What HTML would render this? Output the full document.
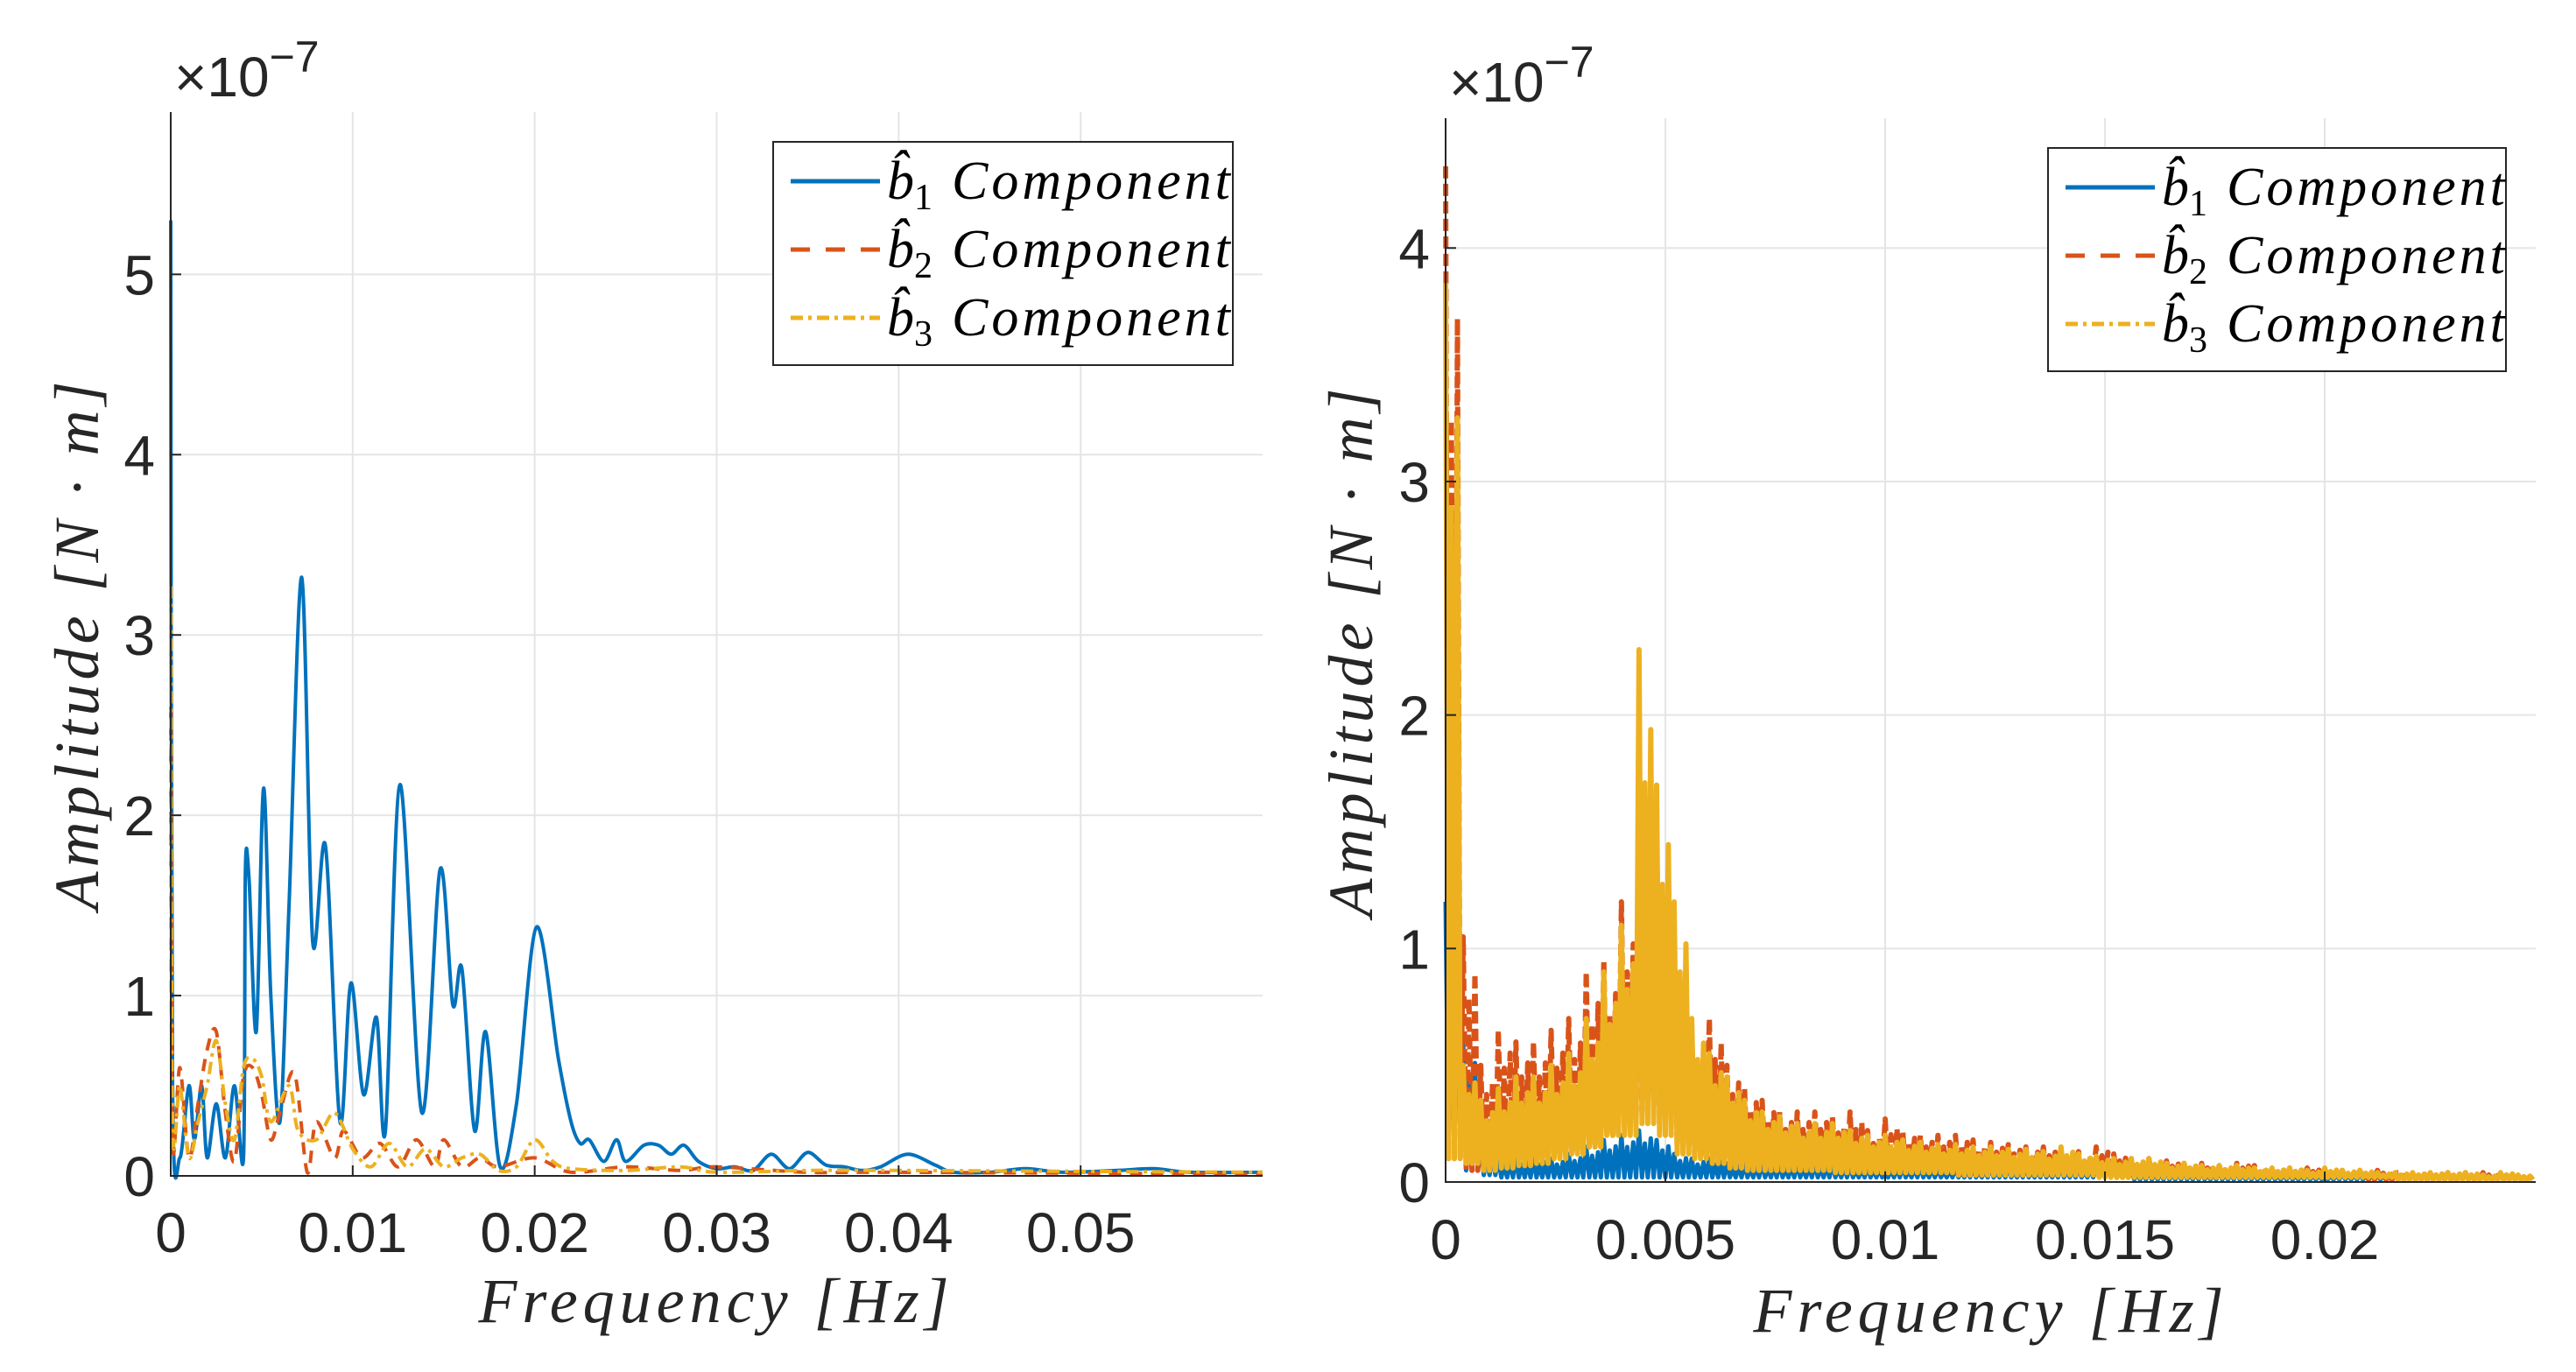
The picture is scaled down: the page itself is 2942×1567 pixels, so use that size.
<!DOCTYPE html>
<html><head><meta charset="utf-8">
<style>
html,body{margin:0;padding:0;background:#fff;}
svg{display:block;}
.tk{font-family:"Liberation Sans",sans-serif;font-size:64px;fill:#262626;}
.lab{font-family:"Liberation Serif",serif;font-style:italic;font-size:72px;fill:#262626;}
.leg{font-family:"Liberation Serif",serif;font-style:italic;font-size:62px;fill:#000;}
</style></head>
<body>
<svg id="fig" width="2942" height="1567" viewBox="0 0 2942 1567" xmlns="http://www.w3.org/2000/svg">
<g id="left"></g>
<g id="right"></g>
</svg>
<script>
// ---- Left chart data (x in Hz, y in 1e-7 N·m)
const leftBlueX=[0,0.0001,0.0005,0.001,0.0013,0.0017,0.002,0.0025,0.003,0.0035,0.004,0.0041,0.0043,0.0047,0.0051,0.0055,0.006,0.0065,0.0072,0.0078,0.0085,0.0093,0.0099,0.0106,0.0113,0.0118,0.0126,0.0138,0.0148,0.0155,0.016,0.0167,0.0173,0.0181,0.019,0.0201,0.0213,0.022,0.0225,0.023,0.0238,0.0245,0.025,0.026,0.0268,0.0275,0.0282,0.029,0.03,0.031,0.032,0.033,0.034,0.035,0.036,0.037,0.038,0.039,0.0405,0.042,0.043,0.045,0.047,0.049,0.052,0.054,0.056,0.06];
const leftBlueY=[5.3,0.5,0.1,0.5,0.2,0.5,0.1,0.4,0.1,0.5,0.1,1.68,1.65,0.8,2.15,1.0,0.3,1.5,3.32,1.3,1.83,0.3,1.07,0.45,0.88,0.25,2.17,0.35,1.7,0.95,1.15,0.25,0.8,0.05,0.4,1.38,0.65,0.3,0.18,0.2,0.08,0.2,0.08,0.17,0.17,0.12,0.17,0.08,0.04,0.05,0.03,0.12,0.04,0.13,0.06,0.05,0.03,0.05,0.12,0.06,0.02,0.02,0.04,0.02,0.03,0.04,0.02,0.02];
const leftRedX=[0,0.0001,0.0005,0.001,0.0015,0.002,0.0025,0.003,0.0035,0.004,0.0045,0.005,0.0055,0.006,0.0068,0.0075,0.008,0.009,0.0095,0.0105,0.0115,0.0125,0.0135,0.0145,0.015,0.016,0.017,0.018,0.02,0.022,0.025,0.028,0.03,0.035,0.04,0.06];
const leftRedY=[2.6,0.2,0.6,0.1,0.4,0.7,0.8,0.35,0.08,0.55,0.6,0.45,0.2,0.35,0.57,0.02,0.3,0.1,0.25,0.1,0.18,0.05,0.2,0.05,0.2,0.05,0.1,0.05,0.1,0.02,0.05,0.03,0.05,0.02,0.02,0.01];
const leftYelX=[0,0.0001,0.0005,0.001,0.0015,0.002,0.0025,0.003,0.0035,0.004,0.0045,0.005,0.0055,0.0065,0.007,0.008,0.009,0.01,0.011,0.012,0.013,0.014,0.015,0.016,0.017,0.018,0.019,0.02,0.021,0.022,0.025,0.028,0.03,0.035,0.04,0.06];
const leftYelY=[3.27,0.3,0.5,0.1,0.3,0.5,0.75,0.4,0.2,0.6,0.65,0.55,0.3,0.5,0.25,0.2,0.35,0.15,0.05,0.18,0.05,0.15,0.05,0.1,0.12,0.03,0.05,0.2,0.08,0.04,0.03,0.05,0.02,0.03,0.03,0.02];
const leftXTicks=[0,0.01,0.02,0.03,0.04,0.05];
const leftXTickLabels=["0","0.01","0.02","0.03","0.04","0.05"];
const leftYTicks=[0,1,2,3,4,5];
// ---- Right chart data: per-bin (0.0004 Hz) high and low values
const rightBinStart=[0,0.0004,0.0008,0.0012,0.0016,0.002,0.0024,0.0028,0.0032,0.0036,0.004,0.0044,0.0048,0.0052,0.0056,0.006,0.0064,0.0068,0.0072,0.0076,0.008,0.0084,0.0088,0.0092,0.0096,0.01,0.0104,0.0108,0.0112,0.0116,0.012,0.0124,0.0128,0.0132,0.0136,0.014,0.0144,0.0148,0.0152,0.0156,0.016,0.0164,0.0168,0.0172,0.0176,0.018,0.0184,0.0188,0.0192,0.0196,0.02,0.0204,0.0208,0.0212,0.0216,0.022,0.0224,0.0228,0.0232,0.0236,0.024,0.0244];
const rightBlueHigh=[1.2,0.6,0.15,0.1,0.1,0.1,0.1,0.12,0.15,0.18,0.2,0.22,0.18,0.12,0.1,0.1,0.08,0.08,0.08,0.08,0.08,0.08,0.08,0.07,0.07,0.07,0.07,0.07,0.06,0.06,0.06,0.06,0.06,0.06,0.06,0.06,0.06,0.06,0.05,0.05,0.05,0.05,0.05,0.05,0.05,0.05,0.04,0.04,0.04,0.04,0.04,0.04,0.04,0.04,0.04,0.04,0.04,0.04,0.03,0.03,0.03,0.03];
const rightBlueLow=[0.1,0.05,0.03,0.02,0.02,0.02,0.02,0.02,0.02,0.02,0.02,0.02,0.02,0.02,0.02,0.02,0.02,0.02,0.02,0.02,0.02,0.02,0.02,0.02,0.02,0.02,0.02,0.02,0.02,0.02,0.02,0.02,0.02,0.02,0.02,0.02,0.02,0.02,0.02,0.01,0.01,0.01,0.01,0.01,0.01,0.01,0.01,0.01,0.01,0.01,0.01,0.01,0.01,0.01,0.01,0.01,0.01,0.01,0.01,0.01,0.01,0.01];
const rightRedHigh=[4.35,1.05,0.5,0.65,0.6,0.6,0.65,0.7,0.9,0.95,1.2,1.65,1.55,1.0,0.65,0.7,0.5,0.4,0.35,0.3,0.3,0.3,0.28,0.3,0.22,0.27,0.22,0.2,0.2,0.2,0.18,0.17,0.16,0.15,0.15,0.14,0.13,0.15,0.12,0.1,0.1,0.09,0.08,0.08,0.07,0.08,0.07,0.06,0.06,0.06,0.05,0.05,0.05,0.05,0.05,0.04,0.04,0.04,0.04,0.04,0.04,0.03];
const rightRedLow=[0.1,0.05,0.05,0.1,0.1,0.1,0.12,0.12,0.15,0.2,0.25,0.3,0.25,0.15,0.1,0.08,0.06,0.05,0.05,0.05,0.05,0.05,0.05,0.04,0.04,0.04,0.04,0.04,0.04,0.03,0.03,0.03,0.03,0.03,0.03,0.03,0.03,0.03,0.02,0.02,0.02,0.02,0.02,0.02,0.02,0.02,0.02,0.02,0.02,0.02,0.02,0.02,0.01,0.01,0.01,0.01,0.01,0.01,0.01,0.01,0.01,0.01];
const rightYelHigh=[3.85,0.5,0.35,0.4,0.45,0.45,0.5,0.55,0.7,0.9,1.1,2.28,1.7,1.2,0.7,0.55,0.45,0.35,0.3,0.28,0.25,0.25,0.25,0.22,0.2,0.2,0.18,0.17,0.16,0.16,0.15,0.15,0.14,0.14,0.13,0.15,0.12,0.11,0.1,0.1,0.1,0.08,0.08,0.07,0.07,0.07,0.06,0.06,0.06,0.05,0.06,0.05,0.05,0.04,0.04,0.04,0.04,0.04,0.04,0.03,0.04,0.03];
const rightYelLow=[0.1,0.08,0.05,0.06,0.07,0.08,0.1,0.12,0.15,0.2,0.2,0.25,0.2,0.12,0.1,0.08,0.06,0.05,0.05,0.05,0.05,0.05,0.04,0.04,0.04,0.04,0.04,0.04,0.04,0.03,0.03,0.03,0.03,0.03,0.03,0.03,0.03,0.02,0.02,0.02,0.02,0.02,0.02,0.02,0.02,0.02,0.02,0.02,0.02,0.02,0.02,0.02,0.02,0.02,0.01,0.01,0.01,0.01,0.01,0.01,0.01,0.01];
const rightXTicks=[0,0.005,0.01,0.015,0.02];
const rightXTickLabels=["0","0.005","0.01","0.015","0.02"];
const rightYTicks=[0,1,2,3,4];

const NS="http://www.w3.org/2000/svg";
const BLUE="#0072BD",RED="#D95319",YEL="#EDB120";
function mk(parent,tag,attrs,text){const e=document.createElementNS(NS,tag);for(const k in attrs)e.setAttribute(k,attrs[k]);if(text!==undefined)e.textContent=text;parent.appendChild(e);return e;}

function buildAxes(g,cfg){
  const sx=v=>cfg.x0+(v-cfg.xmin)/(cfg.xmax-cfg.xmin)*(cfg.x1-cfg.x0);
  const sy=v=>cfg.y0-(v-0)/(cfg.ymax)*(cfg.y0-cfg.y1);
  cfg.xt.forEach((t,i)=>{if(t===0)return;const l=mk(g,'line',{x1:sx(t),x2:sx(t),y1:cfg.y1,y2:cfg.y0,stroke:'#e5e5e5','stroke-width':2});
    
    });
  cfg.yt.forEach(t=>{if(t===0)return;const l=mk(g,'line',{x1:cfg.x0,x2:cfg.x1,y1:sy(t),y2:sy(t),stroke:'#e5e5e5','stroke-width':2});
    
    });
  return {sx,sy};
}
function decorate(g,cfg,sx,sy){
  const ax=mk(g,'path',{d:`M${cfg.x0},${cfg.y1}V${cfg.y0}H${cfg.x1}`,fill:'none',stroke:'#262626','stroke-width':2});
  
  
  cfg.xt.forEach((t,i)=>{
    mk(g,'line',{x1:sx(t),x2:sx(t),y1:cfg.y0,y2:cfg.y0-12,stroke:'#262626','stroke-width':2});
    const tx=mk(g,'text',{x:sx(t),y:cfg.xlabY,'text-anchor':'middle',class:'tk'},cfg.xl[i]);
    
    
  });
  cfg.yt.forEach(t=>{
    mk(g,'line',{x1:cfg.x0,x2:cfg.x0+12,y1:sy(t),y2:sy(t),stroke:'#262626','stroke-width':2});
    const tx=mk(g,'text',{x:cfg.x0-18,y:sy(t)+23,'text-anchor':'end',class:'tk'},String(t));
    
    
  });
  const ex=mk(g,'text',{x:cfg.x0+4,y:cfg.expY,class:'tk'});
  
  
  mk(ex,'tspan',{},'×10');
  mk(ex,'tspan',{dy:-28,'font-size':'50px'},'−7');
  const xt=mk(g,'text',{x:cfg.xTitleX,y:cfg.xTitleY,'text-anchor':'middle',class:'lab','letter-spacing':'6'},'Frequency [Hz]');
  
  
  const yt=mk(g,'text',{x:0,y:0,'text-anchor':'middle',class:'lab','letter-spacing':'5',transform:`translate(${cfg.yTitleX},${cfg.yTitleY}) rotate(-90)`},'Amplitude [N · m]');
  
  
  const L=cfg.leg;
  const lg=mk(g,'g',{});
  
  
  mk(lg,'rect',{x:L.x,y:L.y,width:L.w,height:L.h,fill:'#fff',stroke:'#262626','stroke-width':2});
  const items=[[BLUE,'none','1'],[RED,'22,18','2'],[YEL,'14,6,4,6','3']];
  items.forEach((it,i)=>{
    const ry=L.y+45+i*78;
    const e=mk(lg,'g',{});
    
    
    const ln=mk(e,'line',{x1:L.x+20,x2:L.x+122,y1:ry,y2:ry,stroke:it[0],'stroke-width':5});
    if(it[1]!=='none')ln.setAttribute('stroke-dasharray',it[1]);
    const t=mk(e,'text',{x:L.x+130,y:ry+20,class:'leg'});
    mk(t,'tspan',{},'b̂');
    mk(t,'tspan',{dy:12,'font-size':'42px','font-style':'normal'},it[2]);
    mk(t,'tspan',{dy:-12,dx:22,'letter-spacing':'4'},'Component');
  });
}
function line(g,xs,ys,sx,sy,color,dash,name,w){
  const P=xs.map((x,i)=>[sx(x),sy(ys[i])]);
  let d='M'+P[0][0].toFixed(1)+','+P[0][1].toFixed(1);
  for(let i=0;i<P.length-1;i++){
    const p0=P[Math.max(0,i-1)],p1=P[i],p2=P[i+1],p3=P[Math.min(P.length-1,i+2)];
    const t=0.16;
    const c1=[p1[0]+(p2[0]-p0[0])*t,p1[1]+(p2[1]-p0[1])*t];
    const c2=[p2[0]-(p3[0]-p1[0])*t,p2[1]-(p3[1]-p1[1])*t];
    d+='C'+c1[0].toFixed(1)+','+c1[1].toFixed(1)+' '+c2[0].toFixed(1)+','+c2[1].toFixed(1)+' '+p2[0].toFixed(1)+','+p2[1].toFixed(1);
  }
  const p=mk(g,'path',{d,fill:'none',stroke:color,'stroke-width':w||4,'stroke-linejoin':'round'});
  if(dash)p.setAttribute('stroke-dasharray',dash);
  
  
}
function zig(g,bins,hi,lo,sx,sy,color,dash,name,w){
  const binW=bins.length>1?bins[1]-bins[0]:0;
  let d='';
  bins.forEach((b,i)=>{
    d+=(i?'L':'M')+sx(b).toFixed(1)+','+sy(hi[i]).toFixed(1);
    d+='L'+sx(b+binW*0.17).toFixed(1)+','+sy(lo[i]).toFixed(1);
    d+='L'+sx(b+binW*0.33).toFixed(1)+','+sy(hi[i]*0.75).toFixed(1);
    d+='L'+sx(b+binW*0.5).toFixed(1)+','+sy(lo[i]).toFixed(1);
    d+='L'+sx(b+binW*0.67).toFixed(1)+','+sy(hi[i]*0.85).toFixed(1);
    d+='L'+sx(b+binW*0.83).toFixed(1)+','+sy(lo[i]).toFixed(1);
  });
  const p=mk(g,'path',{d,fill:'none',stroke:color,'stroke-width':w,'stroke-linejoin':'round'});
  if(dash)p.setAttribute('stroke-dasharray',dash);
  
  
}

(function(){
  const g=document.getElementById('left');
  const cfg={x0:195,x1:1442,y0:1343,y1:128,xmin:0,xmax:0.06,ymax:5.9,xt:leftXTicks,xl:leftXTickLabels,yt:leftYTicks,
    xlabY:1430,expY:110,xTitleX:818,xTitleY:1510,yTitleX:112,yTitleY:735,leg:{x:883,y:162,w:525,h:255}};
  const {sx,sy}=buildAxes(g,cfg);
  line(g,leftBlueX,leftBlueY,sx,sy,BLUE,null,'series-b1',4);
  line(g,leftRedX,leftRedY,sx,sy,RED,'14,10','series-b2',4);
  line(g,leftYelX,leftYelY,sx,sy,YEL,'14,6,4,6','series-b3',4);
  decorate(g,cfg,sx,sy);
})();
(function(){
  const g=document.getElementById('right');
  const cfg={x0:1651,x1:2896,y0:1350,y1:135,xmin:0,xmax:0.0248,ymax:4.556,xt:rightXTicks,xl:rightXTickLabels,yt:rightYTicks,
    xlabY:1438,expY:116,xTitleX:2274,xTitleY:1521,yTitleX:1567,yTitleY:743,leg:{x:2339,y:169,w:523,h:255}};
  const {sx,sy}=buildAxes(g,cfg);
  zig(g,rightBinStart,rightBlueHigh,rightBlueLow,sx,sy,BLUE,null,'series-b1',5);
  zig(g,rightBinStart,rightRedHigh,rightRedLow,sx,sy,RED,'14,6','series-b2',6);
  zig(g,rightBinStart,rightYelHigh,rightYelLow,sx,sy,YEL,null,'series-b3',6);
  decorate(g,cfg,sx,sy);
})();
</script>
</body></html>
